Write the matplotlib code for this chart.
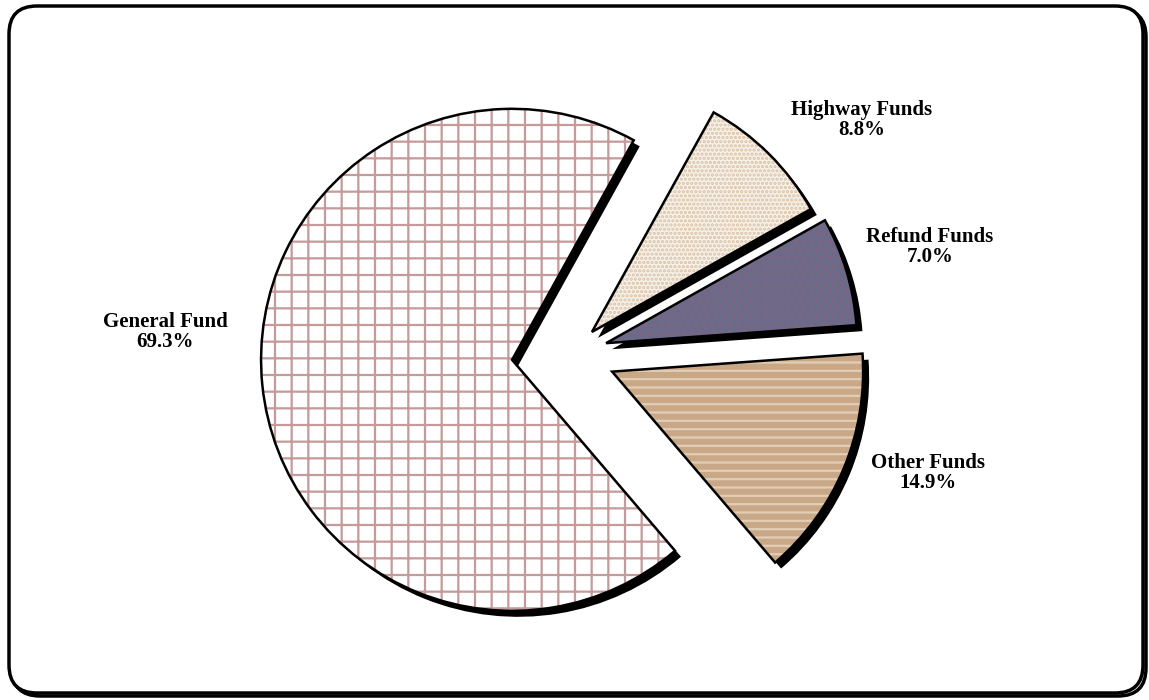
import matplotlib
matplotlib.use("Agg")
import matplotlib.pyplot as plt
from matplotlib.patches import FancyBboxPatch

# data
funds = ["General Fund", "Other Funds", "Refund Funds", "Highway Funds"]
shares = [69.3, 14.9, 7.0, 8.8]

# styles
fills = ["#ffffff", "#c9a887", "#6c6a88", "#f7f1e8"]
hatch_cols = ["#c49a9a", "#e2cdb6", "#7d6680", "#d9c2a8"]
hatches = ["+", "--", "..", "...."]
explode_frac = [0.232, 0.182, 0.15, 0.124]

plt.rcParams["hatch.linewidth"] = 1.6

fig = plt.figure(figsize=(11.49, 7), dpi=100)
ax = fig.add_axes([0, 0, 1, 1])

cx, cy, r = 570, 346, 251
explode = [e * r for e in explode_frac]

# frame with drop shadow
ax.add_patch(FancyBboxPatch((12, 4), 1134, 687, boxstyle="round,pad=0,rounding_size=28",
                            fill=False, edgecolor="black", linewidth=2.5, zorder=1))
ax.add_patch(FancyBboxPatch((9, 7), 1134, 687, boxstyle="round,pad=0,rounding_size=28",
                            facecolor="white", edgecolor="black", linewidth=2.5, zorder=2))

# shadow
ax.pie(shares, explode=explode, startangle=61, radius=r, center=(cx + 6, cy - 6),
       colors=["black"] * 4, wedgeprops=dict(linewidth=0, zorder=3), frame=True)
# fill + hatch
wedges, _ = ax.pie(shares, explode=explode, startangle=61, radius=r, center=(cx, cy),
                   colors=fills, wedgeprops=dict(linewidth=0, zorder=4), frame=True)
for w, h, hc in zip(wedges, hatches, hatch_cols):
    w.set_hatch(h)
    w.set_edgecolor(hc)
    w.set_linewidth(0)
# outline
ax.pie(shares, explode=explode, startangle=61, radius=r, center=(cx, cy),
       wedgeprops=dict(fill=False, edgecolor="black", linewidth=1.8, zorder=5), frame=True)

label_pos = [(165, 368), (928, 227), (930, 453), (862, 580)]
for name, val, (lx, ly) in zip(funds, shares, label_pos):
    ax.text(lx, ly, f"{name}\n{val:.1f}%", ha="center", va="center", fontsize=15,
            fontweight="bold", family="Liberation Serif", linespacing=1.0, zorder=6)

ax.set_xlim(0, 1149)
ax.set_ylim(0, 700)
ax.set_aspect("auto")
ax.axis("off")

fig.savefig("out.png", dpi=100, facecolor="white")
